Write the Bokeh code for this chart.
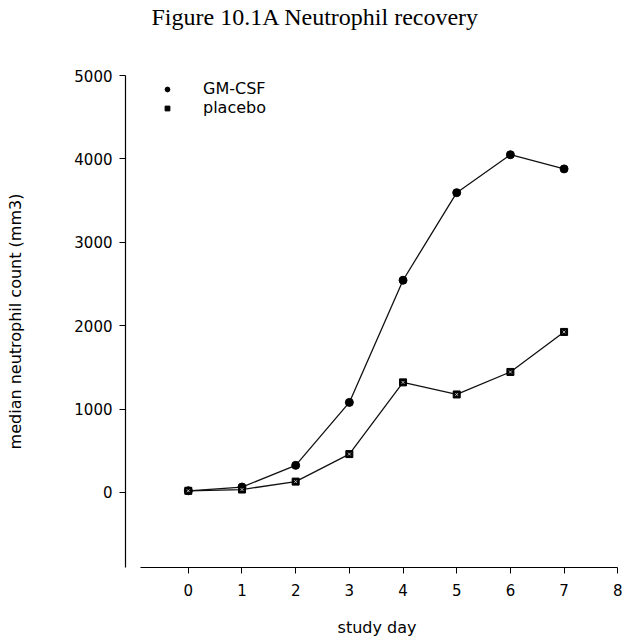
from bokeh.plotting import figure
from bokeh.models import Range1d, FixedTicker, Legend, LegendItem, LinearAxis
from bokeh.embed import file_html
from bokeh.resources import INLINE

# ---- data ----
days = [0, 1, 2, 3, 4, 5, 6, 7]
gm_csf = [20, 65, 325, 1080, 2545, 3595, 4050, 3880]
placebo = [20, 35, 130, 460, 1320, 1175, 1445, 1925]
x_ticks = [0, 1, 2, 3, 4, 5, 6, 7, 8]
y_ticks = [0, 1000, 2000, 3000, 4000, 5000]
title_text = "Figure 10.1A  Neutrophil recovery"
x_label = "study day"
y_label = "median neutrophil count (mm3)"
series_names = ["GM-CSF", "placebo"]

p = figure(width=638, height=640, output_backend="svg", toolbar_location=None,
           x_range=Range1d(-1.17, 8.2), y_range=Range1d(-900, 5000),
           min_border_left=125, min_border_right=10, min_border_top=75,
           min_border_bottom=73)
p.outline_line_color = None
p.grid.visible = False
p.background_fill_color = "white"
p.border_fill_color = "white"

xa = p.below[0]
ya = p.left[0]

# invisible spacer axis above the frame, so the title sits near the top edge
spacer = LinearAxis(ticker=FixedTicker(ticks=[3]), axis_line_alpha=0,
                    major_tick_line_alpha=0, minor_tick_line_alpha=0,
                    major_tick_in=0, major_tick_out=46, minor_tick_in=0, minor_tick_out=0,
                    major_label_overrides={3: ""}, major_label_standoff=0,
                    major_label_text_font_size="1px")
p.add_layout(spacer, "above")

p.title.text = title_text
p.title.align = "left"
p.title.offset = 26
p.title.standoff = 0
p.title.text_font = "Liberation Serif"
p.title.text_font_size = "24px"
p.title.text_font_style = "normal"
p.title.text_color = "black"

font = "DejaVu Sans"
for ax in (xa, ya):
    ax.axis_line_color = "black"
    ax.axis_line_width = 1.2
    ax.major_tick_line_color = "black"
    ax.major_tick_in = 0
    ax.major_tick_out = 6
    ax.minor_tick_line_color = None
    ax.major_label_text_font = font
    ax.major_label_text_font_size = "15px"
    ax.major_label_text_color = "black"
    ax.axis_label_text_font = font
    ax.axis_label_text_font_size = "16px"
    ax.axis_label_text_font_style = "normal"
    ax.axis_label_text_color = "black"

xa.ticker = FixedTicker(ticks=x_ticks)
xa.bounds = (-0.89, 8)
xa.axis_label = x_label
xa.major_label_standoff = 10
xa.axis_label_standoff = 19

ya.ticker = FixedTicker(ticks=y_ticks)
ya.bounds = (-900, 5000)
ya.axis_label = y_label
ya.major_label_standoff = 7
ya.axis_label_standoff = 46

# lines
p.line(days, gm_csf, line_color="#111111", line_width=1.3)
p.line(days, placebo, line_color="#111111", line_width=1.3)

# markers
r_gm = p.scatter(days, gm_csf, marker="circle", size=8, fill_color="black", line_color="black")
r_pl = p.scatter(days, placebo, marker="square", size=7, fill_color="black", line_color="black")
p.scatter(days, placebo, marker="x", size=4, line_color="white", line_width=0.7)

legend = Legend(items=[LegendItem(label=series_names[0], renderers=[r_gm]),
                       LegendItem(label=series_names[1], renderers=[r_pl])],
                location=(36, 450))
legend.border_line_color = None
legend.background_fill_alpha = 0
legend.padding = 0
legend.margin = 0
legend.spacing = 0
legend.glyph_width = 12
legend.glyph_height = 14
legend.label_height = 14
legend.label_standoff = 30
legend.label_text_font = font
legend.label_text_font_size = "16px"
legend.label_text_color = "black"
p.add_layout(legend, "center")

open("out.html", "w").write(file_html(p, INLINE))
